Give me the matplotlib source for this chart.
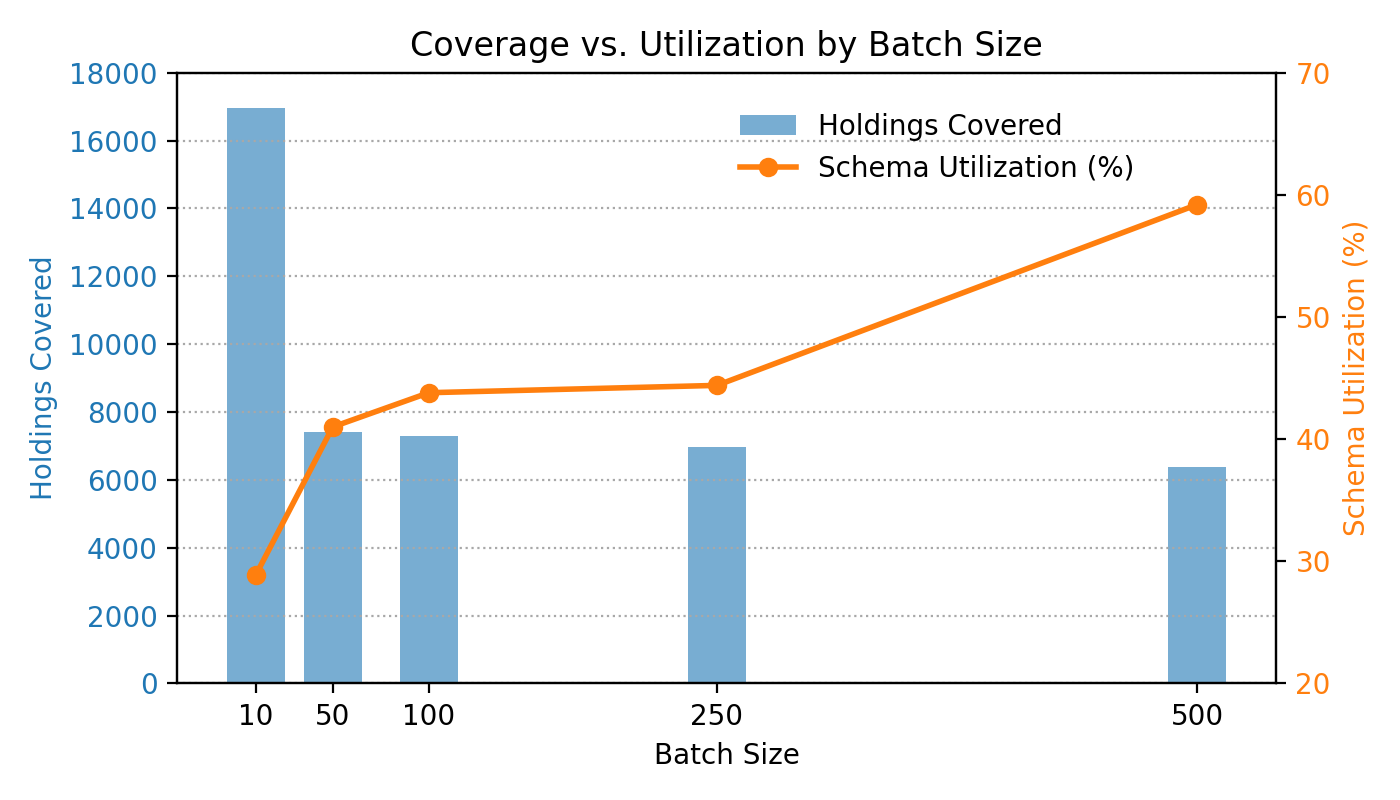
import numpy as np
import matplotlib
matplotlib.use('Agg')
import matplotlib.pyplot as plt

# données
batchSizes = [10, 50, 100, 250, 500]
holdingsCovered = [16960, 7420, 7305, 6955, 6365]
schemaUtilization = [28.9, 41.0, 43.8, 44.4, 59.2]

fig, ax1 = plt.subplots(figsize=(7, 4), dpi=200)

# barres : couverture
bars = ax1.bar(batchSizes, holdingsCovered, width=30, color='tab:blue', alpha=0.6,
               label='Holdings Covered')
ax1.set_xlabel('Batch Size')
ax1.set_ylabel('Holdings Covered', color='tab:blue')
ax1.tick_params(axis='y', labelcolor='tab:blue')
ax1.set_ylim(0, 18000)
ax1.set_xticks(batchSizes)
ax1.grid(axis='y', linestyle=':', color='#a8a8a8')

# courbe : utilisation
ax2 = ax1.twinx()
line, = ax2.plot(batchSizes, schemaUtilization, '-o', color='tab:orange', linewidth=2,
                 markersize=6, label='Schema Utilization (%)')
ax2.set_ylabel('Schema Utilization (%)', color='tab:orange')
ax2.tick_params(axis='y', labelcolor='tab:orange')
ax2.set_ylim(20, 70)

ax1.legend([bars, line], ['Holdings Covered', 'Schema Utilization (%)'],
           loc='upper center', bbox_to_anchor=(0.692, 0.975), frameon=False)

plt.title('Coverage vs. Utilization by Batch Size')
fig.tight_layout()
fig.savefig('out.png')
